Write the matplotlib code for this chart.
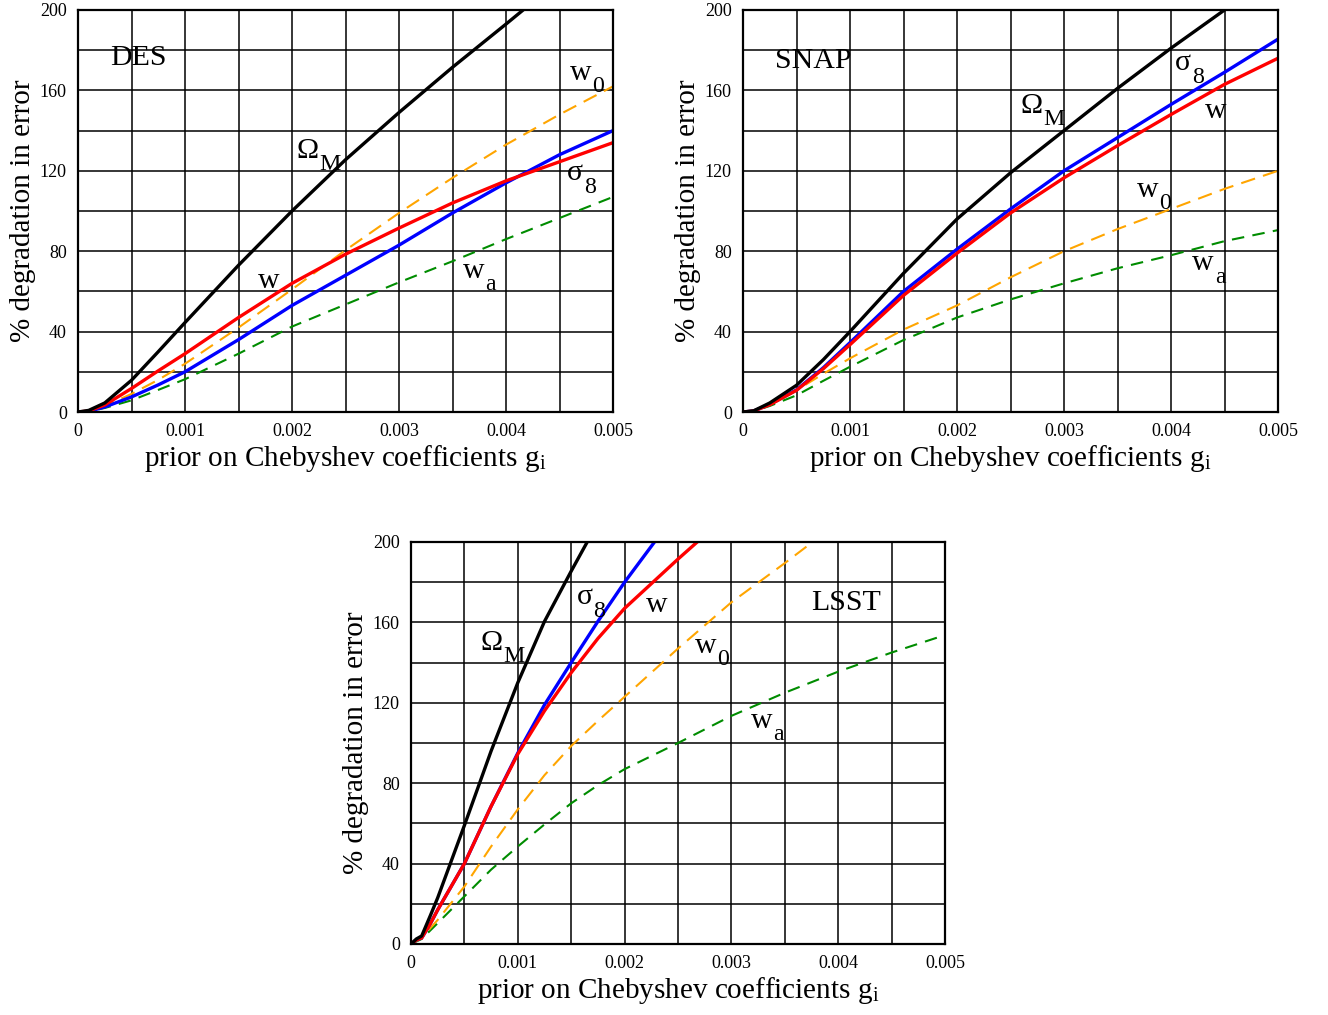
import matplotlib
matplotlib.use("Agg")
import matplotlib.pyplot as plt

plt.rcParams['font.family'] = ['Liberation Serif', 'DejaVu Serif']
plt.rcParams['mathtext.fontset'] = 'stix'

# ---------------- data ----------------
# DES
des_x = [0, 0.0001, 0.00025, 0.0005, 0.00075, 0.001, 0.0015, 0.002, 0.0025, 0.003, 0.0035, 0.004, 0.0045, 0.005]
des_om_x = [0, 0.0001, 0.00025, 0.0005, 0.00075, 0.001, 0.0015, 0.002, 0.0025, 0.003, 0.0035, 0.004, 0.00416]
des_om = [0, 0.8, 4.5, 15.8, 30, 44.5, 73, 100, 125.5, 149, 171.5, 193, 200]
des_s8 = [0, 0.3, 2.5, 7.5, 13.5, 20, 36, 53, 68, 83, 99, 114, 128, 140]
des_w = [0, 0.5, 3.5, 11.7, 20.5, 29, 47, 64, 78.5, 91.5, 104, 115, 124.5, 134]
des_w0 = [0, 0.4, 3, 9, 16, 24, 42, 61, 80.5, 99, 116.5, 133, 148, 162]
des_wa = [0, 0.3, 2, 5.8, 11, 16.3, 29, 42.5, 53.5, 64.5, 75, 86, 96.5, 107]

# SNAP
snap_x = [0, 0.0001, 0.00025, 0.0005, 0.00075, 0.001, 0.0015, 0.002, 0.0025, 0.003, 0.0035, 0.004, 0.0045, 0.005]
snap_om_x = [0, 0.0001, 0.00025, 0.0005, 0.00075, 0.001, 0.0015, 0.002, 0.0025, 0.003, 0.0035, 0.004, 0.0045]
snap_om = [0, 0.6, 4.5, 13.3, 26, 40, 69, 96, 119, 140, 161, 181, 200]
snap_s8 = [0, 0.5, 3.8, 11, 22, 34.5, 60, 81, 101, 120, 136.5, 153, 169, 185.5]
snap_w = [0, 0.5, 3.6, 10.8, 21.5, 33.5, 58, 79, 99, 116.5, 132.5, 148, 163, 176]
snap_w0 = [0, 0.5, 3.5, 10.8, 19, 26.7, 41, 53, 67, 80, 91, 101, 111, 120]
snap_wa = [0, 0.4, 3, 8.3, 15.5, 22.5, 35.8, 47, 56, 64, 71.5, 78, 85, 90.5]

# LSST
lsst_om_x = [0, 0.00005, 0.0001, 0.00018, 0.00025, 0.0005, 0.00075, 0.001, 0.00125, 0.0015, 0.00165]
lsst_om = [0, 2.5, 4, 14, 23, 59, 96, 130, 160.5, 185.5, 200]
lsst_s8_x = [0, 0.00005, 0.0001, 0.00018, 0.00025, 0.0005, 0.00075, 0.001, 0.00125, 0.0015, 0.00175, 0.002, 0.00228]
lsst_s8 = [0, 2, 3, 10, 17, 40, 68.5, 95, 119, 140, 160.5, 180, 200]
lsst_w_x = [0, 0.00005, 0.0001, 0.00018, 0.00025, 0.0005, 0.00075, 0.001, 0.00125, 0.0015, 0.00175, 0.002, 0.0025, 0.00268]
lsst_w = [0, 2, 3, 10, 17, 40, 68.5, 94.5, 116, 135, 152, 167, 191.5, 200]
lsst_w0_x = [0, 0.0001, 0.00025, 0.0005, 0.00075, 0.001, 0.00125, 0.0015, 0.00175, 0.002, 0.0025, 0.003, 0.0035, 0.00376]
lsst_w0 = [0, 3, 12, 28.6, 48.5, 67, 84, 98.5, 111, 123, 147, 170, 189.5, 200]
lsst_wa_x = [0, 0.0001, 0.00025, 0.0005, 0.00075, 0.001, 0.00125, 0.0015, 0.00175, 0.002, 0.0025, 0.003, 0.0035, 0.004, 0.0045, 0.005]
lsst_wa = [0, 2.5, 10.4, 23.7, 37, 48.5, 59.5, 70, 79, 87, 100, 113.5, 125, 135.5, 145, 153.7]

x_ticks = [0, 0.001, 0.002, 0.003, 0.004, 0.005]
x_ticklabels = ['0', '0.001', '0.002', '0.003', '0.004', '0.005']
y_ticks = [0, 40, 80, 120, 160, 200]
y_ticklabels = ['0', '40', '80', '120', '160', '200']
xlabel = r'prior on Chebyshev coefficients g$_\mathregular{i}$'
ylabel = '% degradation in error'

# ---------------- figure ----------------
fig = plt.figure(figsize=(13.28, 10.15), dpi=100)
W, H = 1328, 1015


def make_ax(l, r, t, b):
    return fig.add_axes([l / W, 1 - b / H, (r - l) / W, (b - t) / H])


def style(ax):
    ax.set_xlim(0, 0.005)
    ax.set_ylim(0, 200)
    ax.set_xticks([i * 0.0005 for i in range(11)], minor=True)
    ax.set_yticks([i * 20 for i in range(11)], minor=True)
    ax.set_xticks(x_ticks)
    ax.set_xticklabels(x_ticklabels)
    ax.set_yticks(y_ticks)
    ax.set_yticklabels(y_ticklabels)
    ax.grid(True, which='both', color='black', linewidth=1.1)
    ax.tick_params(which='both', length=0, labelsize=13, pad=8)
    for s in ax.spines.values():
        s.set_linewidth(1.6)
    ax.set_xlabel(xlabel, fontsize=21, labelpad=2)
    ax.set_ylabel(ylabel, fontsize=21, labelpad=3)
    ax.set_axisbelow(True)


solid_lw = 2.4
dash_lw = 1.5


def draw(ax, om, s8, w, w0, wa):
    ax.plot(*wa, color='#008c00', lw=dash_lw, dashes=(6, 4))
    ax.plot(*w0, color='#ffa500', lw=dash_lw, dashes=(7, 4))
    ax.plot(*s8, color='#0000ff', lw=solid_lw)
    ax.plot(*w, color='#ff0000', lw=solid_lw)
    ax.plot(*om, color='black', lw=solid_lw)


FS = 21.5
renderer = fig.canvas.get_renderer()


def lab(ax, x, y, main, sub=None):
    t = ax.text(x, y, main, fontsize=FS, ha='left', va='baseline')
    if sub:
        bb = t.get_window_extent(renderer=renderer)
        ax.annotate(sub, xy=(x, y), xycoords='data',
                    xytext=(bb.width * 72.0 / fig.dpi + 0.5, -FS * 0.42),
                    textcoords='offset points', fontsize=FS * 0.8,
                    ha='left', va='baseline')


# DES
ax1 = make_ax(78, 613, 10, 412)
style(ax1)
draw(ax1, (des_om_x, des_om), (des_x, des_s8), (des_x, des_w), (des_x, des_w0), (des_x, des_wa))
lab(ax1, 0.0003, 172.6, 'DES')
lab(ax1, 0.00204, 126.4, 'Ω', 'M')
lab(ax1, 0.00460, 165.2, 'w', '0')
lab(ax1, 0.00457, 115.4, 'σ', '8')
lab(ax1, 0.00168, 61.7, 'w')
lab(ax1, 0.00360, 66.7, 'w', 'a')

# SNAP
ax2 = make_ax(743, 1278, 10, 412)
style(ax2)
draw(ax2, (snap_om_x, snap_om), (snap_x, snap_s8), (snap_x, snap_w), (snap_x, snap_w0), (snap_x, snap_wa))
lab(ax2, 0.0003, 171.1, 'SNAP')
lab(ax2, 0.00259, 148.8, 'Ω', 'M')
lab(ax2, 0.00404, 170.0, 'σ', '8')
lab(ax2, 0.00432, 146.3, 'w')
lab(ax2, 0.00368, 107.0, 'w', '0')
lab(ax2, 0.00420, 70.6, 'w', 'a')

# LSST
ax3 = make_ax(411, 945, 542, 944)
style(ax3)
draw(ax3, (lsst_om_x, lsst_om), (lsst_s8_x, lsst_s8), (lsst_w_x, lsst_w), (lsst_w0_x, lsst_w0), (lsst_wa_x, lsst_wa))
lab(ax3, 0.003745, 166.2, 'LSST')
lab(ax3, 0.00065, 146.3, 'Ω', 'M')
lab(ax3, 0.00155, 169.0, 'σ', '8')
lab(ax3, 0.00220, 165.0, 'w')
lab(ax3, 0.00266, 145.0, 'w', '0')
lab(ax3, 0.00318, 107.5, 'w', 'a')

fig.savefig('out.png', dpi=100)
